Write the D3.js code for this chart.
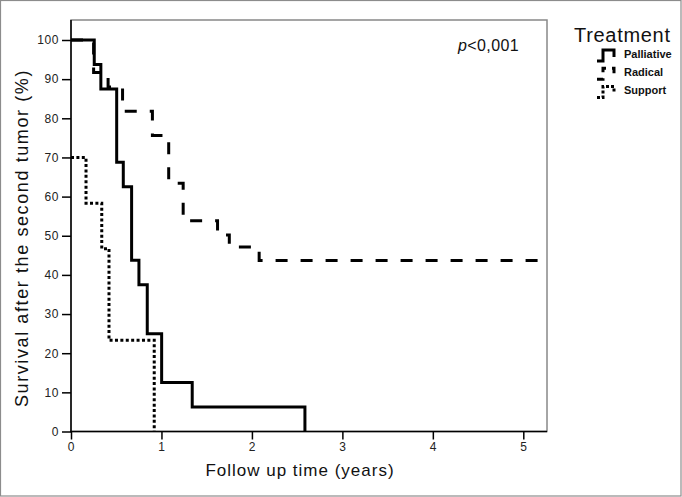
<!DOCTYPE html>
<html><head><meta charset="utf-8">
<script src="https://cdn.jsdelivr.net/npm/d3@7/dist/d3.min.js"></script>
<style>body{margin:0;background:#fff}svg{display:block}</style>
</head><body>
<script>
// ---- data ----
const xTicks = [0, 1, 2, 3, 4, 5];
const yTicks = [0, 10, 20, 30, 40, 50, 60, 70, 80, 90, 100];
const seriesNames = ["Palliative", "Radical", "Support"];
const palliativeTimes = [0, 0.257, 0.33, 0.505, 0.578, 0.67, 0.751, 0.843, 1.002, 1.34, 2.586];
const palliativeSurv  = [100, 93.75, 87.5, 68.75, 62.5, 43.75, 37.5, 25, 12.5, 6.25, 0];
const radicalTimes = [0, 0.25, 0.41, 0.57, 0.9, 1.08, 1.24, 1.62, 1.75, 2.08, 5.262];
const radicalSurv  = [100, 91.7, 88, 81.8, 75.6, 63.4, 53.8, 50.2, 47.1, 43.7, 43.7];
const supportTimes = [0, 0.166, 0.34, 0.42, 0.92];
const supportSurv  = [70, 58.3, 46.7, 23.3, 0];

const W = 682, H = 497;
const svg = d3.select("body").append("svg").attr("width", W).attr("height", H);
const font = "'Liberation Sans', Arial, sans-serif";

svg.append("rect").attr("x", 0.5).attr("y", 0.5).attr("width", W - 1.5).attr("height", H - 1.5)
  .attr("fill", "#fff").attr("stroke", "#8c8c8c").attr("stroke-width", 1.2);

const x = d3.scaleLinear().domain([0, 5.262]).range([71, 547]);
const y = d3.scaleLinear().domain([0, 100]).range([431.5, 40]);

// frame
svg.append("rect").attr("x", 71).attr("y", 20).attr("width", 476).attr("height", 411.5)
  .attr("fill", "none").attr("stroke", "#888").attr("stroke-width", 1.5);

// axes
const yAxis = svg.append("g").attr("transform", "translate(71,0)")
  .call(d3.axisLeft(y).tickValues(yTicks).tickSize(9).tickPadding(3).tickFormat(d3.format("d")));
const xAxis = svg.append("g").attr("transform", "translate(0,431.5)")
  .call(d3.axisBottom(x).tickValues(xTicks).tickSize(8).tickPadding(3).tickFormat(d3.format("d")));
[yAxis, xAxis].forEach(g => {
  g.select(".domain").remove();
  g.selectAll("line").attr("stroke", "#000").attr("stroke-width", 1.5);
  g.selectAll("text").attr("font-family", font).attr("font-size", 12).attr("fill", "#222")
    .attr("letter-spacing", 0.6);
});
svg.append("line").attr("x1", 71).attr("x2", 71).attr("y1", 20).attr("y2", 432)
  .attr("stroke", "#000").attr("stroke-width", 1.5);
svg.append("line").attr("x1", 70).attr("x2", 547).attr("y1", 431.5).attr("y2", 431.5)
  .attr("stroke", "#000").attr("stroke-width", 1.5);

// curves
const line = d3.line().x(d => x(d[0])).y(d => y(d[1])).curve(d3.curveStepAfter);
const styles = {
  Palliative: "none",
  Radical: "12,13",
  Support: "3,2.4"
};
const data = {
  Palliative: d3.zip(palliativeTimes, palliativeSurv),
  Radical: d3.zip(radicalTimes, radicalSurv),
  Support: d3.zip(supportTimes, supportSurv)
};
["Support", "Radical", "Palliative"].forEach(k => {
  svg.append("path").attr("d", line(data[k])).attr("fill", "none")
    .attr("stroke", "#000").attr("stroke-width", 3)
    .attr("stroke-dasharray", styles[k]);
});

// p value
const pt = svg.append("text").attr("x", 458).attr("y", 51).attr("font-family", font)
  .attr("font-size", 16).attr("letter-spacing", 0.4).attr("fill", "#111");
pt.append("tspan").attr("font-style", "italic").text("p");
pt.append("tspan").text("<0,001");

// axis titles
svg.append("text").attr("x", 300).attr("y", 476).attr("text-anchor", "middle")
  .attr("font-family", font).attr("font-size", 17).attr("letter-spacing", 1.0).attr("fill", "#111")
  .text("Follow up time (years)");
svg.append("text").attr("transform", "translate(28,238) rotate(-90)").attr("text-anchor", "middle")
  .attr("font-family", font).attr("font-size", 18).attr("letter-spacing", 1.6).attr("fill", "#111")
  .text("Survival after the second tumor (%)");

// legend
svg.append("text").attr("x", 574).attr("y", 42).attr("font-family", font).attr("font-size", 20)
  .attr("letter-spacing", 0.7).attr("fill", "#111").text("Treatment");
const legDash = { Palliative: "none", Radical: "7,6", Support: "3,2" };
seriesNames.forEach((name, i) => {
  const oy = i * 18.3;
  const sym = d3.path();
  sym.moveTo(597, 61 + oy); sym.lineTo(603, 61 + oy); sym.lineTo(603, 50 + oy);
  sym.lineTo(614, 50 + oy); sym.lineTo(614, 57 + oy);
  svg.append("path").attr("d", sym.toString()).attr("fill", "none").attr("stroke", "#000")
    .attr("stroke-width", 3).attr("stroke-dasharray", legDash[name]);
  svg.append("text").attr("x", 624).attr("y", 57.5 + oy).attr("font-family", font)
    .attr("font-size", 11).attr("font-weight", "bold").attr("fill", "#111").text(name);
});
</script>
</body></html>
